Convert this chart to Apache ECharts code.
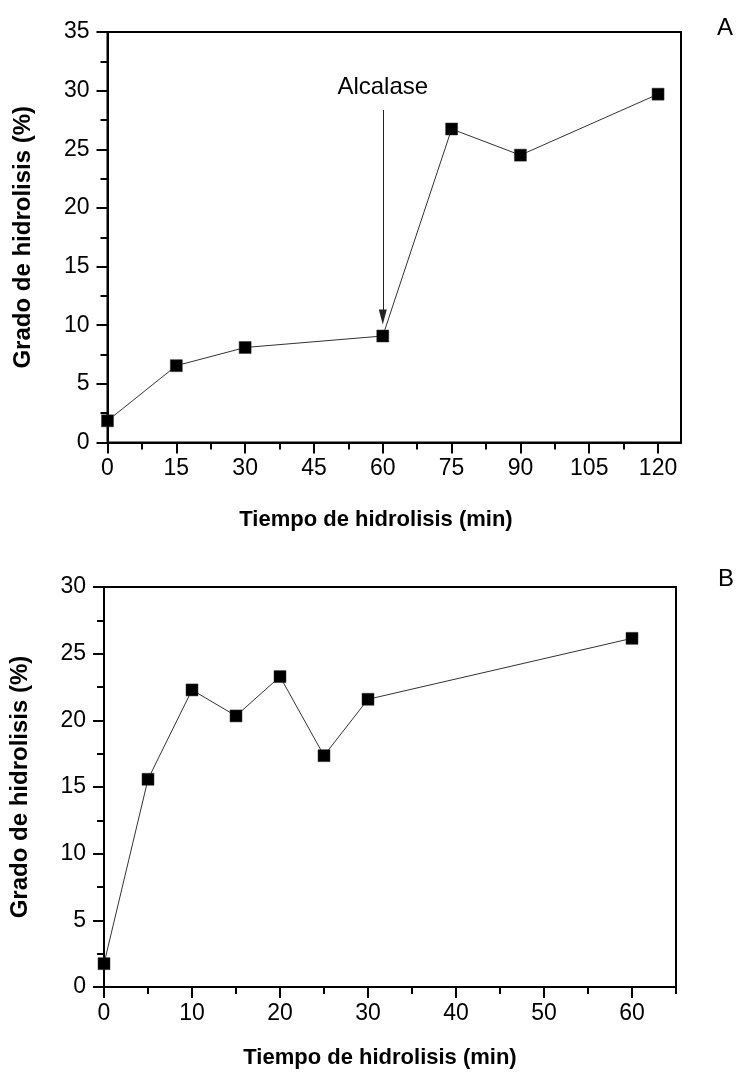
<!DOCTYPE html>
<html>
<head>
<meta charset="utf-8">
<script src="https://cdn.jsdelivr.net/npm/echarts@6/dist/echarts.min.js"></script>
<style>
html,body{margin:0;padding:0;background:#fff;}
#chart{width:737px;height:1073px;}
</style>
</head>
<body>
<div id="chart"></div>
<script>
// ---- Data ----
const timeA = [0, 15, 30, 60, 75, 90, 120];
const gradoA = [1.85, 6.55, 8.1, 9.08, 26.73, 24.5, 29.7];
const timeB = [0, 5, 10, 15, 20, 25, 30, 60];
const gradoB = [1.75, 15.58, 22.28, 20.33, 23.28, 17.35, 21.58, 26.15];

// ---- Tick labels ----
const xTicksA = [0, 15, 30, 45, 60, 75, 90, 105, 120];
const xMinorA = [7.5, 22.5, 37.5, 52.5, 67.5, 82.5, 97.5, 112.5];
const xTicksB = [0, 10, 20, 30, 40, 50, 60];
const xMinorB = [5, 15, 25, 35, 45, 55, 65];

// ---- Annotation (arrow in panel A) ----
const arrowX = 60;
const arrowFrom = 28.35;
const arrowTo = 10.7;
const arrowLabel = 'Alcalase';

// ---- Texts ----
const xTitle = 'Tiempo de hidrolisis (min)';
const yTitle = 'Grado de hidrolisis (%)';
const panelLabels = ['A', 'B'];

const FONT = "'Liberation Sans', Arial, Helvetica, sans-serif";
const black = '#000';
const axisLineStyle = { color: black, width: 2 };

function pairs(xs, ys) { return xs.map((x, i) => [x, ys[i]]); }

function majorX(grid, max, interval, ticks) {
  return {
    type: 'value', gridIndex: grid, position: 'bottom', min: 0, max: max, interval: interval,
    axisLine: { show: true, onZero: false, lineStyle: axisLineStyle },
    axisTick: { show: true, length: 11, customValues: ticks, lineStyle: axisLineStyle },
    axisLabel: { customValues: ticks, fontSize: 23, color: black, margin: 15, fontFamily: FONT },
    splitLine: { show: false }
  };
}
function minorX(grid, max, ticks) {
  return {
    type: 'value', gridIndex: grid, position: 'bottom', min: 0, max: max,
    axisLine: { show: false, onZero: false },
    axisTick: { show: true, length: 7, customValues: ticks, lineStyle: axisLineStyle },
    axisLabel: { show: false },
    splitLine: { show: false }
  };
}
function yAx(grid, max) {
  return {
    type: 'value', gridIndex: grid, min: 0, max: max, interval: 5,
    axisLine: { show: true, onZero: false, lineStyle: axisLineStyle },
    axisTick: { show: true, length: 11, lineStyle: axisLineStyle },
    minorTick: { show: true, splitNumber: 2, length: 7, lineStyle: axisLineStyle },
    minorSplitLine: { show: false },
    axisLabel: { fontSize: 23, color: black, margin: 18, fontFamily: FONT },
    splitLine: { show: false },
    name: yTitle, nameLocation: 'middle', nameGap: 72, nameRotate: 90,
    nameTextStyle: { fontSize: 24, fontWeight: 'bold', color: black, fontFamily: FONT }
  };
}

const seriesStyle = {
  type: 'line', symbol: 'rect', symbolSize: 12, clip: false,
  itemStyle: { color: black, borderColor: '#333', borderWidth: 0.5 },
  lineStyle: { color: '#333', width: 1 },
  emphasis: { disabled: true }, animation: false
};

const chart = echarts.init(document.getElementById('chart'), null, { renderer: 'canvas' });
chart.setOption({
  animation: false,
  backgroundColor: '#fff',
  textStyle: { fontFamily: FONT },
  grid: [
    { left: 107.5, top: 32, width: 573.5, height: 410.5, show: true, borderColor: black, borderWidth: 2, containLabel: false },
    { left: 103, top: 587, width: 573, height: 400, show: true, borderColor: black, borderWidth: 2, containLabel: false }
  ],
  xAxis: [
    majorX(0, 125, 15, xTicksA),
    minorX(0, 125, xMinorA),
    majorX(1, 65, 10, xTicksB),
    minorX(1, 65, xMinorB)
  ],
  yAxis: [ yAx(0, 35), yAx(1, 30) ],
  graphic: [
    { type: 'text', x: 376, y: 520, style: { text: xTitle, font: "bold 22px " + FONT, fill: black, align: 'center', verticalAlign: 'middle' } },
    { type: 'text', x: 380, y: 1058, style: { text: xTitle, font: "bold 22px " + FONT, fill: black, align: 'center', verticalAlign: 'middle' } },
    { type: 'text', x: 725, y: 28, style: { text: panelLabels[0], font: "24px " + FONT, fill: black, align: 'center', verticalAlign: 'middle' } },
    { type: 'text', x: 726, y: 579, style: { text: panelLabels[1], font: "24px " + FONT, fill: black, align: 'center', verticalAlign: 'middle' } }
  ],
  series: [
    Object.assign({}, seriesStyle, {
      name: 'A', xAxisIndex: 0, yAxisIndex: 0, data: pairs(timeA, gradoA),
      markLine: {
        silent: true, animation: false,
        symbol: ['none', 'triangle'], symbolSize: [8, 15],
        lineStyle: { color: '#222', width: 1, type: 'solid' },
        label: { show: true, position: 'start', distance: 11, formatter: arrowLabel, fontSize: 24, color: black, fontFamily: FONT },
        emphasis: { disabled: true },
        data: [[ { coord: [arrowX, arrowFrom] }, { coord: [arrowX, arrowTo] } ]]
      }
    }),
    Object.assign({}, seriesStyle, {
      name: 'B', xAxisIndex: 2, yAxisIndex: 1, data: pairs(timeB, gradoB)
    })
  ]
});
</script>
</body>
</html>
